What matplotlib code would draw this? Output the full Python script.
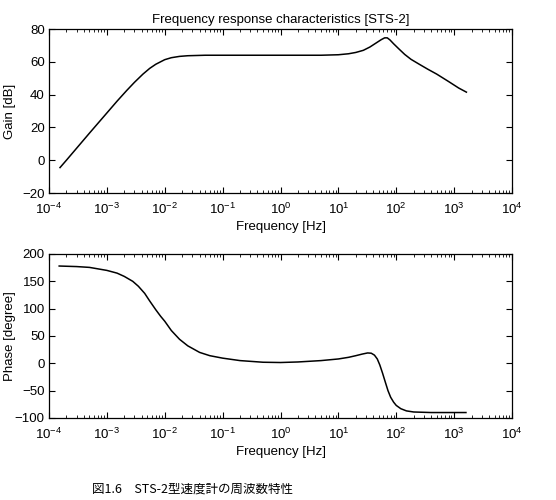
import matplotlib.pyplot as plt
import numpy as np
from matplotlib.ticker import LogLocator, NullFormatter

plt.rcParams['font.family'] = ['Liberation Sans', 'DejaVu Sans']

# gain curve
gain_freq = [1.55e-4, 2e-4, 3e-4, 5e-4, 7.5e-4, 1e-3, 1.5e-3, 2.2e-3, 3e-3, 4.2e-3,
             5.5e-3, 7e-3, 1e-2, 1.3e-2, 1.8e-2, 2.5e-2, 0.05, 0.2, 1, 5, 10, 15, 20,
             27, 35, 45, 55, 63, 70, 78, 90, 110, 140, 180, 250, 350, 500, 800, 1200, 1630]
gain_db = [-4.5, 0, 7.3, 16.5, 23.7, 28.8, 36, 42.5, 47.5, 52.5,
           56, 58.5, 61.3, 62.5, 63.3, 63.7, 64, 64, 64, 64, 64.3, 64.9, 65.7,
           67, 69, 71.5, 73.5, 74.6, 74.6, 73.3, 71, 68, 64.5, 61.5, 58.5, 55.5, 52.5, 48, 44, 41.5]

# phase curve
phase_freq = [1.5e-4, 3e-4, 5e-4, 1e-3, 1.5e-3, 2e-3, 2.8e-3, 3.5e-3, 4.5e-3, 5.5e-3,
              7e-3, 8.5e-3, 1e-2, 1.3e-2, 1.8e-2, 2.5e-2, 4e-2, 6e-2, 0.1, 0.2, 0.5, 1,
              2, 5, 10, 15, 20, 26, 32, 37, 42, 47, 52, 58, 65, 72, 80, 90, 100, 120,
              150, 200, 400, 1600]
phase_deg = [178, 177, 175.5, 170, 165, 159, 150, 141, 128, 114,
             98, 86, 77, 60, 44, 32, 20, 14, 9.5, 5, 2, 1.5,
             2.5, 5, 8, 11, 14, 17, 19, 18.5, 15, 8, -3, -18, -35, -50, -62, -71, -77, -83,
             -87, -89, -90, -90]

xticks = [1e-4, 1e-3, 1e-2, 1e-1, 1e0, 1e1, 1e2, 1e3, 1e4]

fig = plt.figure(figsize=(5.56, 5.00), dpi=100)
ax1 = fig.add_axes([49/556, 1 - 193/500, 463/556, 164/500])
ax2 = fig.add_axes([49/556, 1 - 418/500, 463/556, 164/500])


def style(ax):
    ax.set_xscale('log')
    ax.set_xlim(1e-4, 1e4)
    ax.set_xticks(xticks)
    ax.xaxis.set_minor_locator(LogLocator(base=10, subs=np.arange(2, 10), numticks=20))
    ax.xaxis.set_minor_formatter(NullFormatter())
    ax.tick_params(which='both', direction='in', top=True, right=True, labelsize=9.5)
    ax.tick_params(which='major', length=4, pad=3)
    ax.tick_params(which='minor', length=2)
    ax.tick_params(axis='x', which='major', pad=6)
    ax.set_xlabel('Frequency [Hz]', fontsize=9.5, labelpad=3)
    for s in ax.spines.values():
        s.set_linewidth(0.9)


ax1.plot(gain_freq, gain_db, color='black', lw=1.1)
style(ax1)
ax1.set_ylim(-20, 80)
ax1.set_yticks([-20, 0, 20, 40, 60, 80])
ax1.set_ylabel('Gain [dB]', fontsize=9.5, labelpad=4)
ax1.yaxis.set_label_coords(-0.072, 0.5)
ax1.set_title('Frequency response characteristics [STS-2]', fontsize=9.5, pad=4)

ax2.plot(phase_freq, phase_deg, color='black', lw=1.1)
style(ax2)
ax2.set_ylim(-100, 200)
ax2.set_yticks([-100, -50, 0, 50, 100, 150, 200])
ax2.set_ylabel('Phase [degree]', fontsize=9.5)
ax2.yaxis.set_label_coords(-0.072, 0.5)

fig.text(92/556, 0.022, '図1.6\u3000STS-2型速度計の周波数特性', fontsize=9,
         family=['Noto Sans CJK JP', 'DejaVu Sans'], ha='left', va='center')

fig.savefig('out.png', dpi=100)
